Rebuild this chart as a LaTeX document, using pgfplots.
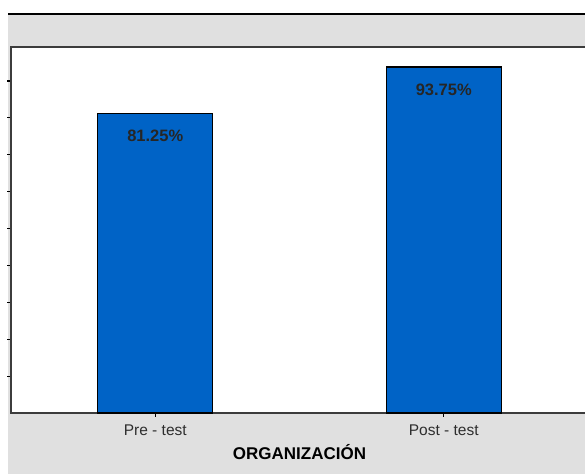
\documentclass[border=0pt]{standalone}
\usepackage{pgfplots}
\pgfplotsset{compat=1.18}
\usepackage{fontspec}
\setmainfont{Liberation Sans}

\definecolor{panelgray}{HTML}{E0E0E0}
\definecolor{barblue}{HTML}{0063C6}
\definecolor{framegray}{HTML}{3C3C3C}
\definecolor{labelgray}{HTML}{2E2E2E}

\begin{document}
\begin{tikzpicture}[x=1pt,y=1pt]
  \useasboundingbox (0,0) rectangle (585,474);
  \clip (0,0) rectangle (585,474);
  % page and grey panel behind the chart
  \fill[white] (0,0) rectangle (585,474);
  \fill[panelgray] (8,0) rectangle (590,460);
  \draw[black, line width=1.5pt] (8,460) -- (590,460);
  \begin{axis}[
    at={(11pt,61pt)}, anchor=south west,
    scale only axis, width=577pt, height=366pt,
    xmin=-0.5, xmax=1.5, ymin=0, ymax=99.2,
    axis background/.style={fill=white},
    axis line style={draw=framegray, line width=1.5pt},
    ybar, bar width=115pt,
    xtick={0,1}, xticklabels={Pre - test, Post - test},
    ytick={10,20,...,90}, yticklabels={},
    tick align=outside, xtick pos=bottom, ytick pos=left,
    major tick length=3.5pt,
    every tick/.style={black, line width=1.2pt},
    xticklabel style={font=\fontsize{15.5pt}{18pt}\selectfont, text=labelgray,
      anchor=base, yshift=-19pt},
    xlabel={\textbf{ORGANIZACIÓN}},
    xlabel style={font=\fontsize{17pt}{20pt}\selectfont, text=black,
      at={(axis description cs:0.5,0)}, anchor=base, yshift=-46pt},
    /pgf/number format/assume math mode=true,
    nodes near coords={\pgfmathprintnumber[fixed,precision=2,fixed zerofill]{\pgfplotspointmeta}\%},
    nodes near coords style={font=\bfseries\fontsize{16.5pt}{19pt}\selectfont,
      text=black!85, anchor=base, yshift=-28.5pt},
  ]
    \addplot[fill=barblue, draw=black, line width=1.3pt]
      coordinates {(0,81.25) (1,93.75)};
  \end{axis}
\end{tikzpicture}
\end{document}
